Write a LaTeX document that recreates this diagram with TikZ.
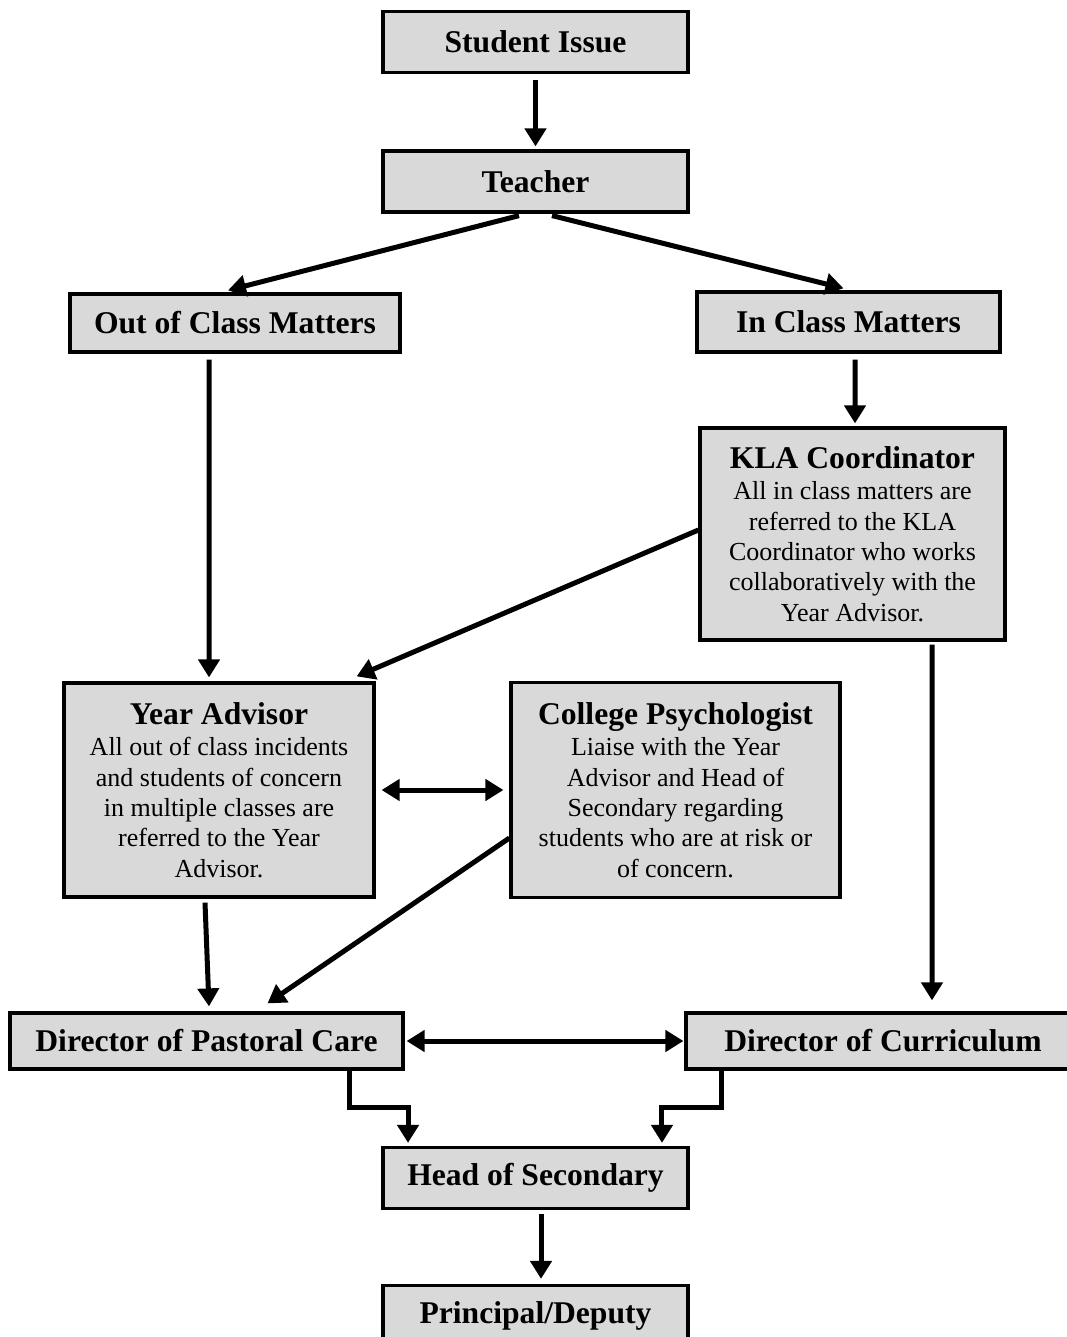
\documentclass[tikz,border=0pt]{standalone}
\usepackage{fontspec}
\setmainfont{Liberation Serif}
\usetikzlibrary{arrows.meta}
\definecolor{boxgray}{HTML}{D9D9D9}
\newcommand{\boxhead}[1]{{\fontsize{18}{21}\selectfont\bfseries #1}}
\begin{document}
\begin{tikzpicture}[
  x=0.02cm, y=-0.02cm,
  flowbox/.style={rectangle, draw, line width=0.065cm, fill=boxgray, minimum width=6.1cm, minimum height=1.22cm, inner sep=2pt, font=\fontsize{18}{21}\selectfont\bfseries},
  notebox/.style={rectangle, draw, line width=0.065cm, fill=boxgray, align=center, inner sep=2pt, font=\fontsize{14.8}{17.3}\selectfont},
  arr/.style={-{Triangle[length=0.36cm,width=0.42cm]}, line width=0.1cm},
  dblarr/.style={{Triangle[length=0.36cm,width=0.42cm]}-{Triangle[length=0.36cm,width=0.42cm]}, line width=0.1cm}
]
  \useasboundingbox (0,0) rectangle (1066,1337);
  % Boxes
  \node[flowbox] (issue) at (535.5,42) {Student Issue};
  \node[flowbox] (teacher) at (535.5,181.5) {Teacher};
  \node[flowbox, minimum width=6.6cm, minimum height=1.16cm] (outcls) at (235,323) {Out of Class Matters};
  \node[flowbox, minimum width=6.06cm, minimum height=1.2cm] (incls) at (848.5,322) {In Class Matters};
  \node[notebox, minimum width=6.1cm, minimum height=4.24cm] (kla) at (852.5,534)
    {\boxhead{KLA Coordinator}\\[0.5pt] All in class matters are\\ referred to the KLA\\ Coordinator who works\\ collaboratively with the\\ Year Advisor.};
  \node[notebox, minimum width=6.2cm, minimum height=4.28cm] (year) at (219,790)
    {\boxhead{Year Advisor}\\[0.5pt] All out of class incidents\\ and students of concern\\ in multiple classes are\\ referred to the Year\\ Advisor.};
  \node[notebox, minimum width=6.58cm, minimum height=4.3cm] (psych) at (675.5,790)
    {\boxhead{College Psychologist}\\[0.5pt] Liaise with the Year\\ Advisor and Head of\\ Secondary regarding\\ students who are at risk or\\ of concern.};
  \node[flowbox, minimum width=7.86cm, minimum height=1.12cm] (pastoral) at (206.5,1041) {Director of Pastoral Care};
  \node[flowbox, minimum width=7.88cm, minimum height=1.12cm] (curric) at (883,1041) {Director of Curriculum};
  \node[flowbox] (head) at (535.5,1178) {Head of Secondary};
  \node[flowbox] (principal) at (535.5,1316) {Principal/Deputy};
  % Connectors
  \draw[arr] ([yshift=-0.12cm]issue.south) -- ([yshift=0.06cm]teacher.north);
  \draw[arr] ([xshift=-0.33cm,yshift=-0.04cm]teacher.south) -- ([xshift=-0.14cm,yshift=0.04cm]outcls.north);
  \draw[arr] ([xshift=0.33cm,yshift=-0.04cm]teacher.south) -- ([xshift=-0.1cm,yshift=0.04cm]incls.north);
  \draw[arr] ([xshift=-0.52cm,yshift=-0.12cm]outcls.south) -- ([xshift=-0.2cm,yshift=0.08cm]year.north);
  \draw[arr] ([xshift=0.13cm,yshift=-0.12cm]incls.south) -- ([xshift=0.05cm,yshift=0.06cm]kla.north);
  \draw[arr] ([yshift=0.08cm]kla.west) -- ([xshift=-0.38cm,yshift=0.1cm]year.north east);
  \draw[arr] ([xshift=1.59cm,yshift=-0.06cm]kla.south) -- ([xshift=0.98cm,yshift=0.22cm]curric.north);
  \draw[dblarr] ([xshift=0.12cm]year.east) -- ([xshift=-0.12cm]psych.west);
  \draw[arr] ([xshift=-0.28cm,yshift=-0.08cm]year.south) -- ([xshift=0.05cm,yshift=0.1cm]pastoral.north);
  \draw[arr] ([yshift=-0.96cm]psych.west) -- ([xshift=1.22cm,yshift=0.16cm]pastoral.north);
  \draw[dblarr] ([xshift=0.04cm]pastoral.east) -- ([xshift=-0.02cm]curric.west);
  \draw[arr, line join=miter] ([xshift=2.87cm]pastoral.south) -- ++(0,37) -| ([xshift=-2.55cm,yshift=0.06cm]head.north);
  \draw[arr, line join=miter] ([xshift=-3.24cm]curric.south) -- ++(0,37) -| ([xshift=2.53cm,yshift=0.06cm]head.north);
  \draw[arr] ([xshift=0.11cm,yshift=-0.08cm]head.south) -- ([xshift=0.11cm,yshift=0.1cm]principal.north);
\end{tikzpicture}
\end{document}
